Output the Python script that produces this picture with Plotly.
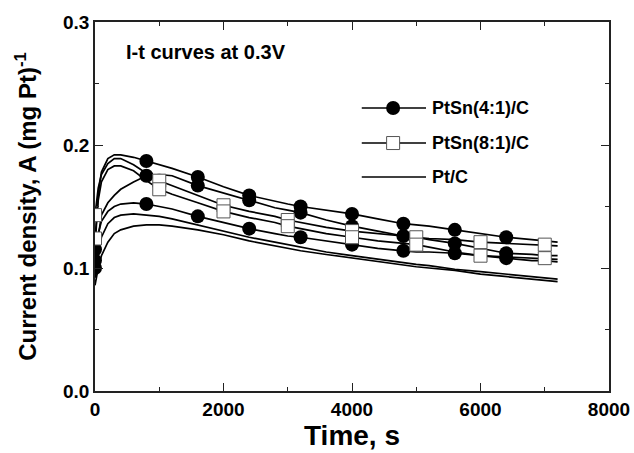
import plotly.graph_objects as go

# time grid (s) and current density values (A per mg Pt)
t = [0, 50, 100, 200, 300, 400, 600, 800, 1000, 1200, 1600, 2000, 2400, 2800,
     3000, 3200, 3600, 4000, 4400, 4800, 5000, 5200, 5600, 6000, 6400, 6800,
     7000, 7200]

ptsn41_a = [0.115, 0.160, 0.178, 0.189, 0.192, 0.192, 0.190, 0.187, 0.184, 0.181,
            0.174, 0.166, 0.159, 0.154, 0.152, 0.150, 0.147, 0.144, 0.140, 0.136,
            0.135, 0.134, 0.131, 0.128, 0.125, 0.123, 0.122, 0.121]
ptsn41_b = [0.100, 0.125, 0.143, 0.153, 0.159, 0.164, 0.170, 0.175, 0.176, 0.175,
            0.167, 0.161, 0.155, 0.149, 0.147, 0.145, 0.139, 0.134, 0.130, 0.126,
            0.125, 0.123, 0.120, 0.116, 0.112, 0.111, 0.110, 0.110]
ptsn41_c = [0.106, 0.128, 0.138, 0.146, 0.150, 0.152, 0.153, 0.152, 0.150, 0.148,
            0.142, 0.137, 0.132, 0.128, 0.126, 0.125, 0.122, 0.119, 0.116, 0.114,
            0.113, 0.113, 0.112, 0.110, 0.108, 0.106, 0.106, 0.105]
ptsn81_a = [0.143, 0.165, 0.176, 0.185, 0.189, 0.189, 0.184, 0.177, 0.171, 0.167,
            0.159, 0.151, 0.146, 0.142, 0.139, 0.137, 0.133, 0.130, 0.128, 0.126,
            0.125, 0.124, 0.123, 0.121, 0.120, 0.119, 0.119, 0.118]
ptsn81_b = [0.124, 0.155, 0.170, 0.180, 0.183, 0.183, 0.179, 0.171, 0.164, 0.160,
            0.153, 0.146, 0.141, 0.137, 0.134, 0.132, 0.128, 0.125, 0.122, 0.120,
            0.119, 0.117, 0.113, 0.110, 0.109, 0.108, 0.108, 0.107]
ptc_a = [0.092, 0.112, 0.125, 0.136, 0.141, 0.143, 0.144, 0.143, 0.142, 0.140,
         0.135, 0.130, 0.125, 0.121, 0.119, 0.117, 0.113, 0.110, 0.107, 0.104,
         0.103, 0.102, 0.099, 0.097, 0.095, 0.093, 0.092, 0.091]
ptc_b = [0.086, 0.100, 0.110, 0.121, 0.128, 0.131, 0.134, 0.135, 0.135, 0.134,
         0.131, 0.127, 0.122, 0.118, 0.116, 0.114, 0.111, 0.108, 0.105, 0.102,
         0.101, 0.100, 0.098, 0.095, 0.093, 0.091, 0.090, 0.089]

circle_times = [0, 800, 1600, 2400, 3200, 4000, 4800, 5600, 6400]
square_times = [0, 1000, 2000, 3000, 4000, 5000, 6000, 7000]

FONT = "Arial, Liberation Sans, sans-serif"

fig = go.Figure()

# plain curves first
for y in [ptc_a, ptc_b, ptsn41_a, ptsn41_b, ptsn41_c, ptsn81_a, ptsn81_b]:
    fig.add_trace(go.Scatter(x=t, y=y, mode='lines',
                             line=dict(color='black', width=1.7),
                             showlegend=False, hoverinfo='skip'))


def pick(times, y):
    return [y[t.index(v)] for v in times]


# filled circles for PtSn(4:1)/C
for y in [ptsn41_a, ptsn41_b, ptsn41_c]:
    fig.add_trace(go.Scatter(x=circle_times, y=pick(circle_times, y), mode='markers',
                             marker=dict(symbol='circle', size=14, color='black'),
                             showlegend=False))

# open squares for PtSn(8:1)/C
for y in [ptsn81_a, ptsn81_b]:
    fig.add_trace(go.Scatter(x=square_times, y=pick(square_times, y), mode='markers',
                             marker=dict(symbol='square', size=13, color='white',
                                         line=dict(color='#555555', width=1)),
                             showlegend=False))

# hand-made legend (paper coords)
leg_rows = [0.767, 0.672, 0.580]
leg_names = ['PtSn(4:1)/C', 'PtSn(8:1)/C', 'Pt/C']
shapes = []
for yy in leg_rows:
    shapes.append(dict(type='line', xref='paper', yref='paper', x0=0.519, x1=0.644,
                       y0=yy, y1=yy, line=dict(color='black', width=1.6)))
shapes.append(dict(type='circle', xref='paper', yref='paper', xsizemode='pixel',
                   ysizemode='pixel', xanchor=0.580, yanchor=leg_rows[0],
                   x0=-7, x1=7, y0=-7, y1=7, fillcolor='black', line=dict(width=0)))
shapes.append(dict(type='rect', xref='paper', yref='paper', xsizemode='pixel',
                   ysizemode='pixel', xanchor=0.580, yanchor=leg_rows[1],
                   x0=-6.5, x1=6.5, y0=-6.5, y1=6.5, fillcolor='white',
                   line=dict(color='#555555', width=1)))

annotations = [dict(text=n, xref='paper', yref='paper', x=0.652, y=yy,
                    xanchor='left', yanchor='middle', showarrow=False,
                    font=dict(family=FONT, size=18, color='black', weight='bold'))
               for n, yy in zip(leg_names, leg_rows)]
annotations.append(dict(text='I-t curves at 0.3V', xref='paper', yref='paper',
                        x=0.056, y=0.919, xanchor='left', yanchor='middle',
                        showarrow=False,
                        font=dict(family=FONT, size=20, color='black', weight='bold')))

axis_common = dict(showline=True, linecolor='#222222', linewidth=1.5, mirror='ticks',
                   ticks='inside', ticklen=8, tickcolor='#222222', tickwidth=1.2,
                   showgrid=False, zeroline=False, automargin=False,
                   tickfont=dict(family=FONT, size=19, color='black', weight='bold'))

fig.update_layout(
    width=634, height=453,
    margin=dict(l=95, r=25, t=22, b=62),
    paper_bgcolor='white', plot_bgcolor='white',
    shapes=shapes, annotations=annotations,
    xaxis=dict(range=[0, 8000], dtick=2000, **axis_common,
               minor=dict(ticks='inside', ticklen=4, dtick=1000, tickcolor='#222222'),
               title=dict(text='Time, s', standoff=6,
                          font=dict(family=FONT, size=28, color='black', weight='bold'))),
    yaxis=dict(range=[0, 0.3], dtick=0.1, tickformat='.1f', **axis_common,
               minor=dict(ticks='inside', ticklen=4, dtick=0.05, tickcolor='#222222'),
               title=dict(text='Current density, A (mg Pt)<sup>-1</sup>', standoff=20,
                          font=dict(family=FONT, size=24, color='black', weight='bold'))),
)

# drop the browser's default 8px body margin so the figure sits at the window origin
fig.write_html("out.html", config={'displayModeBar': False},
               post_script="document.body.style.margin='0';")
